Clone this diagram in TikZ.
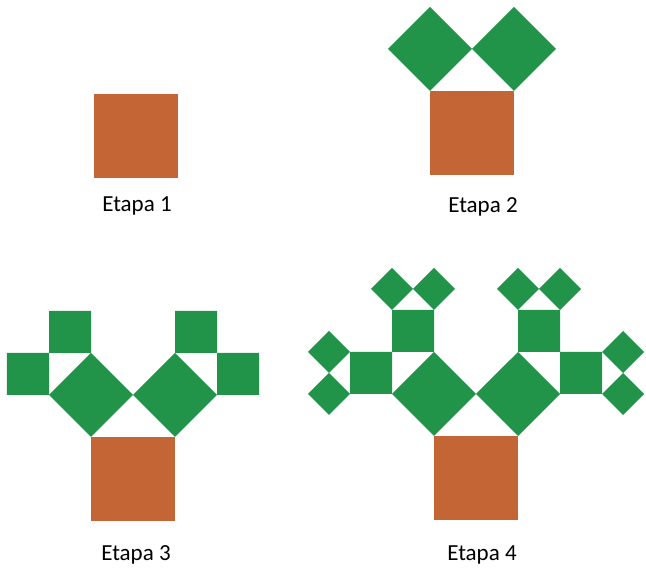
\documentclass[tikz,border=0pt]{standalone}
\usepackage{fontspec}
\setmainfont{Carlito}
\usetikzlibrary{calc}
\definecolor{trunkbrown}{HTML}{C46535}
\definecolor{leafgreen}{HTML}{21944A}
\tikzset{
    trunk/.style={fill=trunkbrown},
    leaf/.style={fill=leafgreen},
    stagelabel/.style={anchor=base, font=\fontsize{23}{27}\selectfont}
}
% square on base (#1)--(#2), then #3-1 more levels on top of it
% #4 = name prefix, #5 = fill style
\newcommand{\PythBranch}[5]{%
    \coordinate (#4D) at ($(#1)!1!90:(#2)$);
    \coordinate (#4C) at ($(#2)!1!-90:(#1)$);
    \coordinate (#4E) at ($(#4D)!0.7071!45:(#4C)$);
    \fill[#5] (#1) -- (#2) -- (#4C) -- (#4D) -- cycle;
    \ifnum#3>1
        \PythBranch{#4D}{#4E}{\numexpr#3-1\relax}{#4l}{leaf}%
        \PythBranch{#4E}{#4C}{\numexpr#3-1\relax}{#4r}{leaf}%
    \fi
}

\begin{document}
\begin{tikzpicture}[x=1pt, y=1pt]
    \useasboundingbox (0,0) rectangle (646,573);

    % Base corners of each trunk
    \coordinate (A1) at (94,395);    % Etapa 1
    \coordinate (B1) at (178,395);
    \coordinate (A2) at (430,398);   % Etapa 2
    \coordinate (B2) at (514,398);
    \coordinate (A3) at (91,52);     % Etapa 3
    \coordinate (B3) at (175,52);
    \coordinate (A4) at (434,53);    % Etapa 4
    \coordinate (B4) at (518,53);

    \PythBranch{A1}{B1}{1}{s1}{trunk}
    \PythBranch{A2}{B2}{2}{s2}{trunk}
    \PythBranch{A3}{B3}{3}{s3}{trunk}
    \PythBranch{A4}{B4}{4}{s4}{trunk}

    \node[stagelabel] (lab1) at (137,361) {Etapa 1};
    \node[stagelabel] (lab2) at (483,360) {Etapa 2};
    \node[stagelabel] (lab3) at (136,12) {Etapa 3};
    \node[stagelabel] (lab4) at (482,12) {Etapa 4};
\end{tikzpicture}
\end{document}
